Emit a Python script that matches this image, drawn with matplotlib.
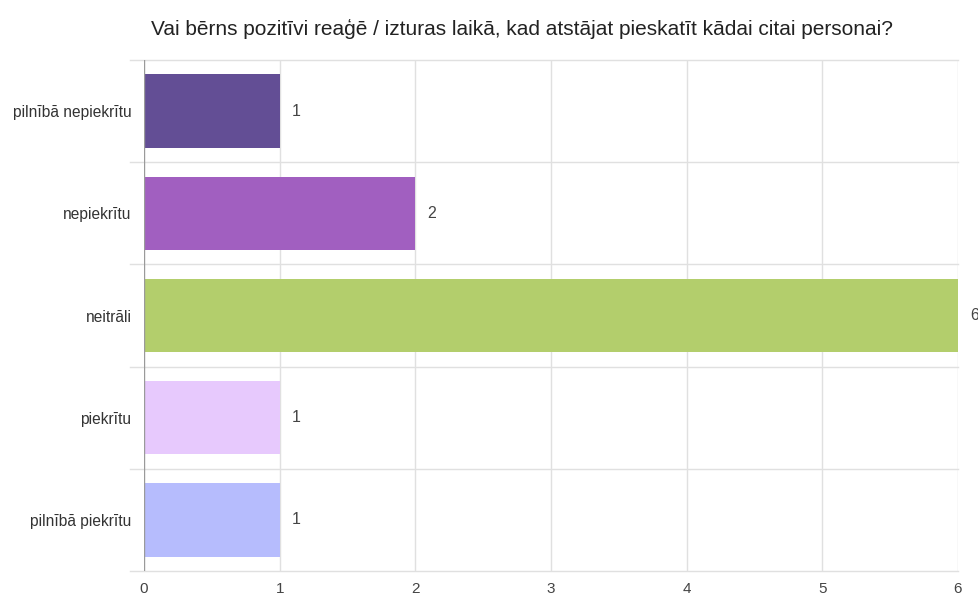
import matplotlib
matplotlib.use("Agg")
import matplotlib.pyplot as plt

categories = ["pilnībā nepiekrītu", "nepiekrītu", "neitrāli", "piekrītu", "pilnībā piekrītu"]
values = [1, 2, 6, 1, 1]
colors = ["#634e95", "#a15fc0", "#b3ce6c", "#e7c9fd", "#b6bcfd"]
xticks = [0, 1, 2, 3, 4, 5, 6]
title = "Vai bērns pozitīvi reaģē / izturas laikā, kad atstājat pieskatīt kādai citai personai?"

plt.rcParams['font.family'] = ['Liberation Sans', 'DejaVu Sans']

W, H = 979, 597
fig = plt.figure(figsize=(W / 100, H / 100), dpi=100)
ax = fig.add_axes([144 / W, 1 - 571 / H, (958 - 144) / W, (571 - 60) / H])

ypos = list(range(len(categories)))
ax.barh(ypos, values, height=0.72, color=colors, zorder=3)

ax.set_xlim(0, 6)
ax.set_ylim(len(categories) - 0.5, -0.5)

for s in ax.spines.values():
    s.set_visible(False)

ax.set_xticks(xticks)
ax.set_xticklabels([str(t) for t in xticks], fontsize=11, color="#444444")
ax.set_yticks(ypos)
ax.set_yticklabels(categories, fontsize=11.2, color="#333333")
ax.tick_params(axis="both", length=0)
ax.tick_params(axis="x", pad=8)
ax.tick_params(axis="y", pad=9)

# vertical gridlines
for t in xticks[1:]:
    ax.axvline(t, color="#e0e0e0", lw=1, zorder=1)
ax.axvline(0, color="#9a9a9a", lw=1, zorder=4)

# horizontal band boundaries extending slightly left of axis
trans = ax.get_yaxis_transform()
for b in [i - 0.5 for i in range(len(categories) + 1)]:
    ax.plot([-0.017, 1.0], [b, b], transform=trans, color="#e0e0e0", lw=1,
            clip_on=False, zorder=1)

for y, v in zip(ypos, values):
    ax.annotate(str(v), (v, y), xytext=(8.5, 0), textcoords="offset points",
                va="center", ha="left", fontsize=11.5, color="#444444",
                annotation_clip=False)

fig.text(522 / W, 1 - 29 / H, title, ha="center", va="center", fontsize=15, color="#222222")

fig.savefig("out.png", dpi=100)
